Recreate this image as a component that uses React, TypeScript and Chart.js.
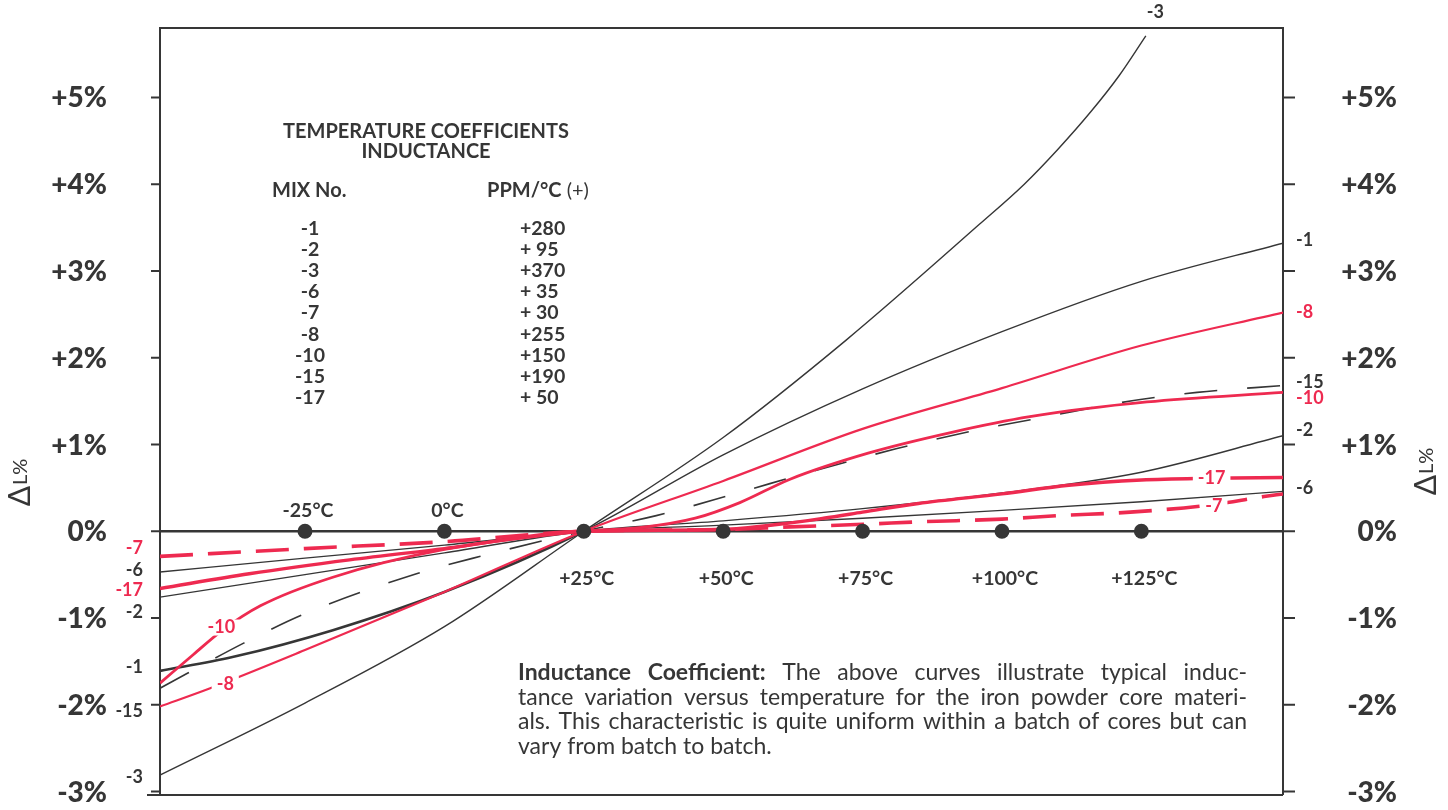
import React, { useEffect, useRef } from "react";
import { Chart, registerables } from "chart.js";

Chart.register(...registerables);

// ---------- data ----------
const pointTemps = [-25, 0, 25, 50, 75, 100, 125];
const pointTempLabels = ["-25°C", "0°C", "+25°C", "+50°C", "+75°C", "+100°C", "+125°C"];

const pctTicks = [-3, -2, -1, 0, 1, 2, 3, 4, 5];
const pctTickLabels = ["-3%", "-2%", "-1%", "0%", "+1%", "+2%", "+3%", "+4%", "+5%"];

const mixNumbers = ["-1", "-2", "-3", "-6", "-7", "-8", "-10", "-15", "-17"];
const mixPpm = ["+280", "+ 95", "+370", "+ 35", "+ 30", "+255", "+150", "+190", "+ 50"];

const mix1Temp = [-51, -38, -20, 0, 25, 50, 75, 100, 125, 150.4];
const mix1Pct = [-1.61, -1.45, -1.14, -0.7, 0, 0.88, 1.64, 2.3, 2.88, 3.32];

const mix2Temp = [-51, -25, 0, 25, 50, 75, 100, 125, 150.4];
const mix2Pct = [-0.76, -0.5, -0.25, 0, 0.12, 0.26, 0.44, 0.68, 1.1];

const mix3Temp = [-51, -25, 0, 25, 50, 72, 96, 104, 110, 116, 121, 125.8];
const mix3Pct = [-2.81, -1.98, -1.1, 0, 1.08, 2.2, 3.54, 4.0, 4.4, 4.84, 5.25, 5.71];

const mix6Temp = [-51, -25, 0, 25, 50, 75, 100, 125, 150.4];
const mix6Pct = [-0.47, -0.31, -0.16, 0, 0.07, 0.15, 0.24, 0.34, 0.46];

const mix7Temp = [-51, -25, 0, 25, 50, 62, 75, 86, 100, 110, 123, 137, 147, 150.4];
const mix7Pct = [-0.29, -0.2, -0.12, 0, 0.02, 0.05, 0.08, 0.11, 0.14, 0.18, 0.22, 0.3, 0.4, 0.43];

const mix8Temp = [-51, -42, -25, 0, 25, 50, 75, 100, 125, 150.4];
const mix8Pct = [-2.02, -1.81, -1.37, -0.7, 0, 0.58, 1.18, 1.65, 2.14, 2.52];

const mix10Temp = [-51, -45, -40, -33, -20, 0, 25, 35, 45, 53, 62, 76, 91, 105, 126, 150.4];
const mix10Pct = [-1.75, -1.42, -1.15, -0.86, -0.53, -0.21, 0, 0.04, 0.15, 0.33, 0.6, 0.9, 1.14, 1.32, 1.49, 1.6];

const mix15Temp = [-51, -36, -25, -5, 7, 25, 38, 52, 66, 81, 95, 108, 121, 135, 150.4];
const mix15Pct = [-1.81, -1.29, -0.95, -0.49, -0.28, 0, 0.18, 0.43, 0.69, 0.95, 1.16, 1.32, 1.48, 1.6, 1.68];

const mix17Temp = [-51, -35, -17, 0, 25, 50, 60, 68, 75, 85, 100, 112, 125, 137, 150.4];
const mix17Pct = [-0.66, -0.49, -0.33, -0.2, 0, 0.02, 0.08, 0.15, 0.22, 0.32, 0.43, 0.53, 0.59, 0.61, 0.62];

const noteBold = "Inductance Coefficient:";
const noteLines = [
  "The above curves illustrate typical induc-",
  "tance variation versus temperature for the iron powder core materi-",
  "als. This characteristic is quite uniform within a batch of cores but can",
  "vary from batch to batch.",
];

// ---------- style ----------
const INK = "#363636";
const RED = "#ee2a50";
const FONT = "Lato, 'Open Sans', sans-serif";
const X_MIN = -51;
const X_MAX = 150.4;
const Y_MIN = -3.04;
const Y_MAX = 5.8;

// label layout (data units for y, pixel offsets for x)
const leftLabels = [
  { text: "-7", pct: -0.2, color: RED },
  { text: "-6", pct: -0.45, color: INK },
  { text: "-17", pct: -0.68, color: RED },
  { text: "-2", pct: -0.93, color: INK },
  { text: "-1", pct: -1.57, color: INK },
  { text: "-15", pct: -2.07, color: INK },
  { text: "-3", pct: -2.83, color: INK },
];
const rightLabels = [
  { text: "-1", pct: 3.35, color: INK },
  { text: "-8", pct: 2.52, color: RED },
  { text: "-15", pct: 1.72, color: INK },
  { text: "-10", pct: 1.53, color: RED },
  { text: "-2", pct: 1.16, color: INK },
  { text: "-6", pct: 0.5, color: INK },
];
const inlineLabels = [
  { text: "-10", t: -40, pct: -1.11, color: RED },
  { text: "-8", t: -39.3, pct: -1.76, color: RED },
  { text: "-17", t: 137.6, pct: 0.61, color: RED },
  { text: "-7", t: 138, pct: 0.29, color: RED },
];

const pts = (t: number[], v: number[]) => t.map((tt, i) => ({ x: tt, y: v[i] }));

function txt(ctx: CanvasRenderingContext2D, s: string, x: number, y: number, font: string, color: string, align: CanvasTextAlign = "center", base: CanvasTextBaseline = "middle") {
  ctx.font = font;
  ctx.fillStyle = color;
  ctx.textAlign = align;
  ctx.textBaseline = base;
  ctx.fillText(s, x, y);
}

function justified(ctx: CanvasRenderingContext2D, words: { w: string; bold: boolean }[], x: number, y: number, width: number, justify: boolean, size: number) {
  const fonts = words.map((wd) => `${wd.bold ? "bold " : ""}${size}px ${FONT}`);
  const widths = words.map((wd, i) => {
    ctx.font = fonts[i];
    return ctx.measureText(wd.w).width;
  });
  const total = widths.reduce((a, b) => a + b, 0);
  ctx.font = `${size}px ${FONT}`;
  const space = ctx.measureText(" ").width;
  let gap = justify && words.length > 1 ? (width - total) / (words.length - 1) : space;
  if (gap < 3) gap = 3;
  let cx = x;
  ctx.textAlign = "left";
  ctx.textBaseline = "alphabetic";
  ctx.fillStyle = INK;
  words.forEach((wd, i) => {
    ctx.font = fonts[i];
    ctx.fillText(wd.w, cx, y);
    cx += widths[i] + gap;
  });
}

const decorPlugin = {
  id: "decor",
  beforeDatasetsDraw(chart: any) {
    const { ctx, chartArea: a, scales } = chart;
    const sy = (v: number) => scales.y.getPixelForValue(v);
    ctx.save();
    ctx.strokeStyle = INK;
    ctx.lineWidth = 2;
    ctx.beginPath();
    ctx.moveTo(a.left, a.bottom);
    ctx.lineTo(a.left, a.top);
    ctx.lineTo(a.right, a.top);
    ctx.lineTo(a.right, a.bottom);
    ctx.moveTo(a.left - 13, a.bottom);
    ctx.lineTo(a.right, a.bottom);
    pctTicks.forEach((v) => {
      const py = sy(v);
      ctx.moveTo(a.left - 9, py);
      ctx.lineTo(a.left, py);
      ctx.moveTo(a.right, py);
      ctx.lineTo(a.right + 12, py);
    });
    ctx.stroke();
    ctx.lineWidth = 2.4;
    ctx.beginPath();
    ctx.moveTo(a.left, sy(0));
    ctx.lineTo(a.right, sy(0));
    ctx.stroke();
    ctx.restore();
  },
  afterDatasetsDraw(chart: any) {
    const { ctx, chartArea: a, scales } = chart;
    const sx = (v: number) => scales.x.getPixelForValue(v);
    const sy = (v: number) => scales.y.getPixelForValue(v);
    ctx.save();

    // axis tick labels
    const tickFont = `900 28px ${FONT}`;
    pctTicks.forEach((v, i) => {
      txt(ctx, pctTickLabels[i], 107, sy(v) + 1, tickFont, INK, "right");
      txt(ctx, pctTickLabels[i], 1397, sy(v) + 1, tickFont, INK, "right");
    });

    // ΔL% titles
    const deltaTitle = (cx: number, cy: number) => {
      ctx.save();
      ctx.translate(cx, cy);
      ctx.rotate(-Math.PI / 2);
      ctx.font = `30px ${FONT}`;
      const w1 = ctx.measureText("Δ").width;
      ctx.font = `20px ${FONT}`;
      const w2 = ctx.measureText("L%").width;
      const start = -(w1 + w2) / 2;
      txt(ctx, "Δ", start, 0, `30px ${FONT}`, INK, "left", "alphabetic");
      txt(ctx, "L%", start + w1 + 1, -3, `20px ${FONT}`, INK, "left", "alphabetic");
      ctx.restore();
    };
    deltaTitle(30, 483);
    deltaTitle(1436, 472);

    // temperature labels
    pointTemps.forEach((t, i) => {
      const above = t <= 0;
      txt(ctx, pointTempLabels[i], sx(t) + 3, sy(0) + (above ? -21 : 47), `bold 19.5px ${FONT}`, INK);
    });

    // curve labels
    const labFont = `bold 18px ${FONT}`;
    leftLabels.forEach((l) => txt(ctx, l.text, a.left - 17, sy(l.pct), labFont, l.color, "right"));
    rightLabels.forEach((l) => txt(ctx, l.text, a.right + 13, sy(l.pct), labFont, l.color, "left"));
    inlineLabels.forEach((l) => {
      ctx.font = labFont;
      const w = ctx.measureText(l.text).width;
      const cx = sx(l.t), cy = sy(l.pct);
      ctx.fillStyle = "#ffffff";
      ctx.fillRect(cx - w / 2 - 5, cy - 8, w + 10, 16);
      txt(ctx, l.text, cx, cy, labFont, l.color);
    });
    txt(ctx, "-3", sx(127.5), 12, labFont, INK);

    // table
    const tFont = `bold 20px ${FONT}`;
    const nFont = `bold 19.5px ${FONT}`;
    txt(ctx, "TEMPERATURE COEFFICIENTS", 426, 132, tFont, INK);
    txt(ctx, "INDUCTANCE", 426, 152, tFont, INK);
    txt(ctx, "MIX No.", 272, 191, tFont, INK, "left");
    ctx.font = tFont;
    const ppmW = ctx.measureText("PPM/°C").width;
    txt(ctx, "PPM/°C", 487, 191, tFont, INK, "left");
    txt(ctx, " (+)", 487 + ppmW, 191, `20px ${FONT}`, INK, "left");
    mixNumbers.forEach((m, i) => {
      const ry = 229 + i * 21.05;
      txt(ctx, m, 310, ry, nFont, INK);
      txt(ctx, mixPpm[i], 520, ry, nFont, INK, "left");
    });

    // note paragraph
    const noteX = 518;
    const noteW = 729;
    noteLines.forEach((line, i) => {
      const words = line.split(" ").map((w) => ({ w, bold: false }));
      const all = i === 0 ? noteBold.split(" ").map((w) => ({ w, bold: true })).concat(words) : words;
      justified(ctx, all, noteX, 680 + i * 24.5, noteW, i < noteLines.length - 1, 23);
    });

    ctx.restore();
  },
};

export default function App() {
  const ref = useRef<HTMLCanvasElement | null>(null);
  useEffect(() => {
    if (!ref.current) return;
    const thin = 1.4;
    const chart = new Chart(ref.current, {
      type: "line",
      data: {
        datasets: [
          {
            label: "points",
            data: pointTemps.map((t) => ({ x: t, y: 0 })),
            showLine: false,
            pointRadius: 7.5,
            pointBackgroundColor: INK,
            pointBorderWidth: 0,
            borderColor: INK,
          },
          { label: "-7", data: pts(mix7Temp, mix7Pct), borderColor: RED, borderWidth: 3.6, borderDash: [33, 15] },
          { label: "-17", data: pts(mix17Temp, mix17Pct), borderColor: RED, borderWidth: 3.4 },
          { label: "-10", data: pts(mix10Temp, mix10Pct), borderColor: RED, borderWidth: 2.8 },
          { label: "-8", data: pts(mix8Temp, mix8Pct), borderColor: RED, borderWidth: 2.2 },
          { label: "-15", data: pts(mix15Temp, mix15Pct), borderColor: INK, borderWidth: 1.6, borderDash: [33, 30] },
          { label: "-6", data: pts(mix6Temp, mix6Pct), borderColor: INK, borderWidth: thin },
          { label: "-2", data: pts(mix2Temp, mix2Pct), borderColor: INK, borderWidth: thin },
          {
            label: "-1",
            data: pts(mix1Temp, mix1Pct),
            borderColor: INK,
            borderWidth: thin,
            segment: { borderWidth: (c: any) => (c.p0.parsed.x < 25 ? 2.6 : 1.4) },
          },
          { label: "-3", data: pts(mix3Temp, mix3Pct), borderColor: INK, borderWidth: thin },
        ] as any,
      },
      options: {
        animation: false,
        responsive: false,
        devicePixelRatio: 1,
        events: [],
        layout: { padding: { left: 160, right: 165, top: 28, bottom: 15 } },
        plugins: { legend: { display: false }, tooltip: { enabled: false } },
        elements: {
          point: { radius: 0 },
          line: { cubicInterpolationMode: "monotone", fill: false },
        },
        scales: {
          x: { type: "linear", min: X_MIN, max: X_MAX, display: false },
          y: { type: "linear", min: Y_MIN, max: Y_MAX, display: false },
        },
      } as any,
      plugins: [decorPlugin],
    });
    return () => chart.destroy();
  }, []);
  return (
    <div style={{ position: "absolute", left: 0, top: 0, width: 1448, height: 810, background: "#fff" }}>
      <canvas ref={ref} width={1448} height={810} style={{ display: "block" }} />
    </div>
  );
}
